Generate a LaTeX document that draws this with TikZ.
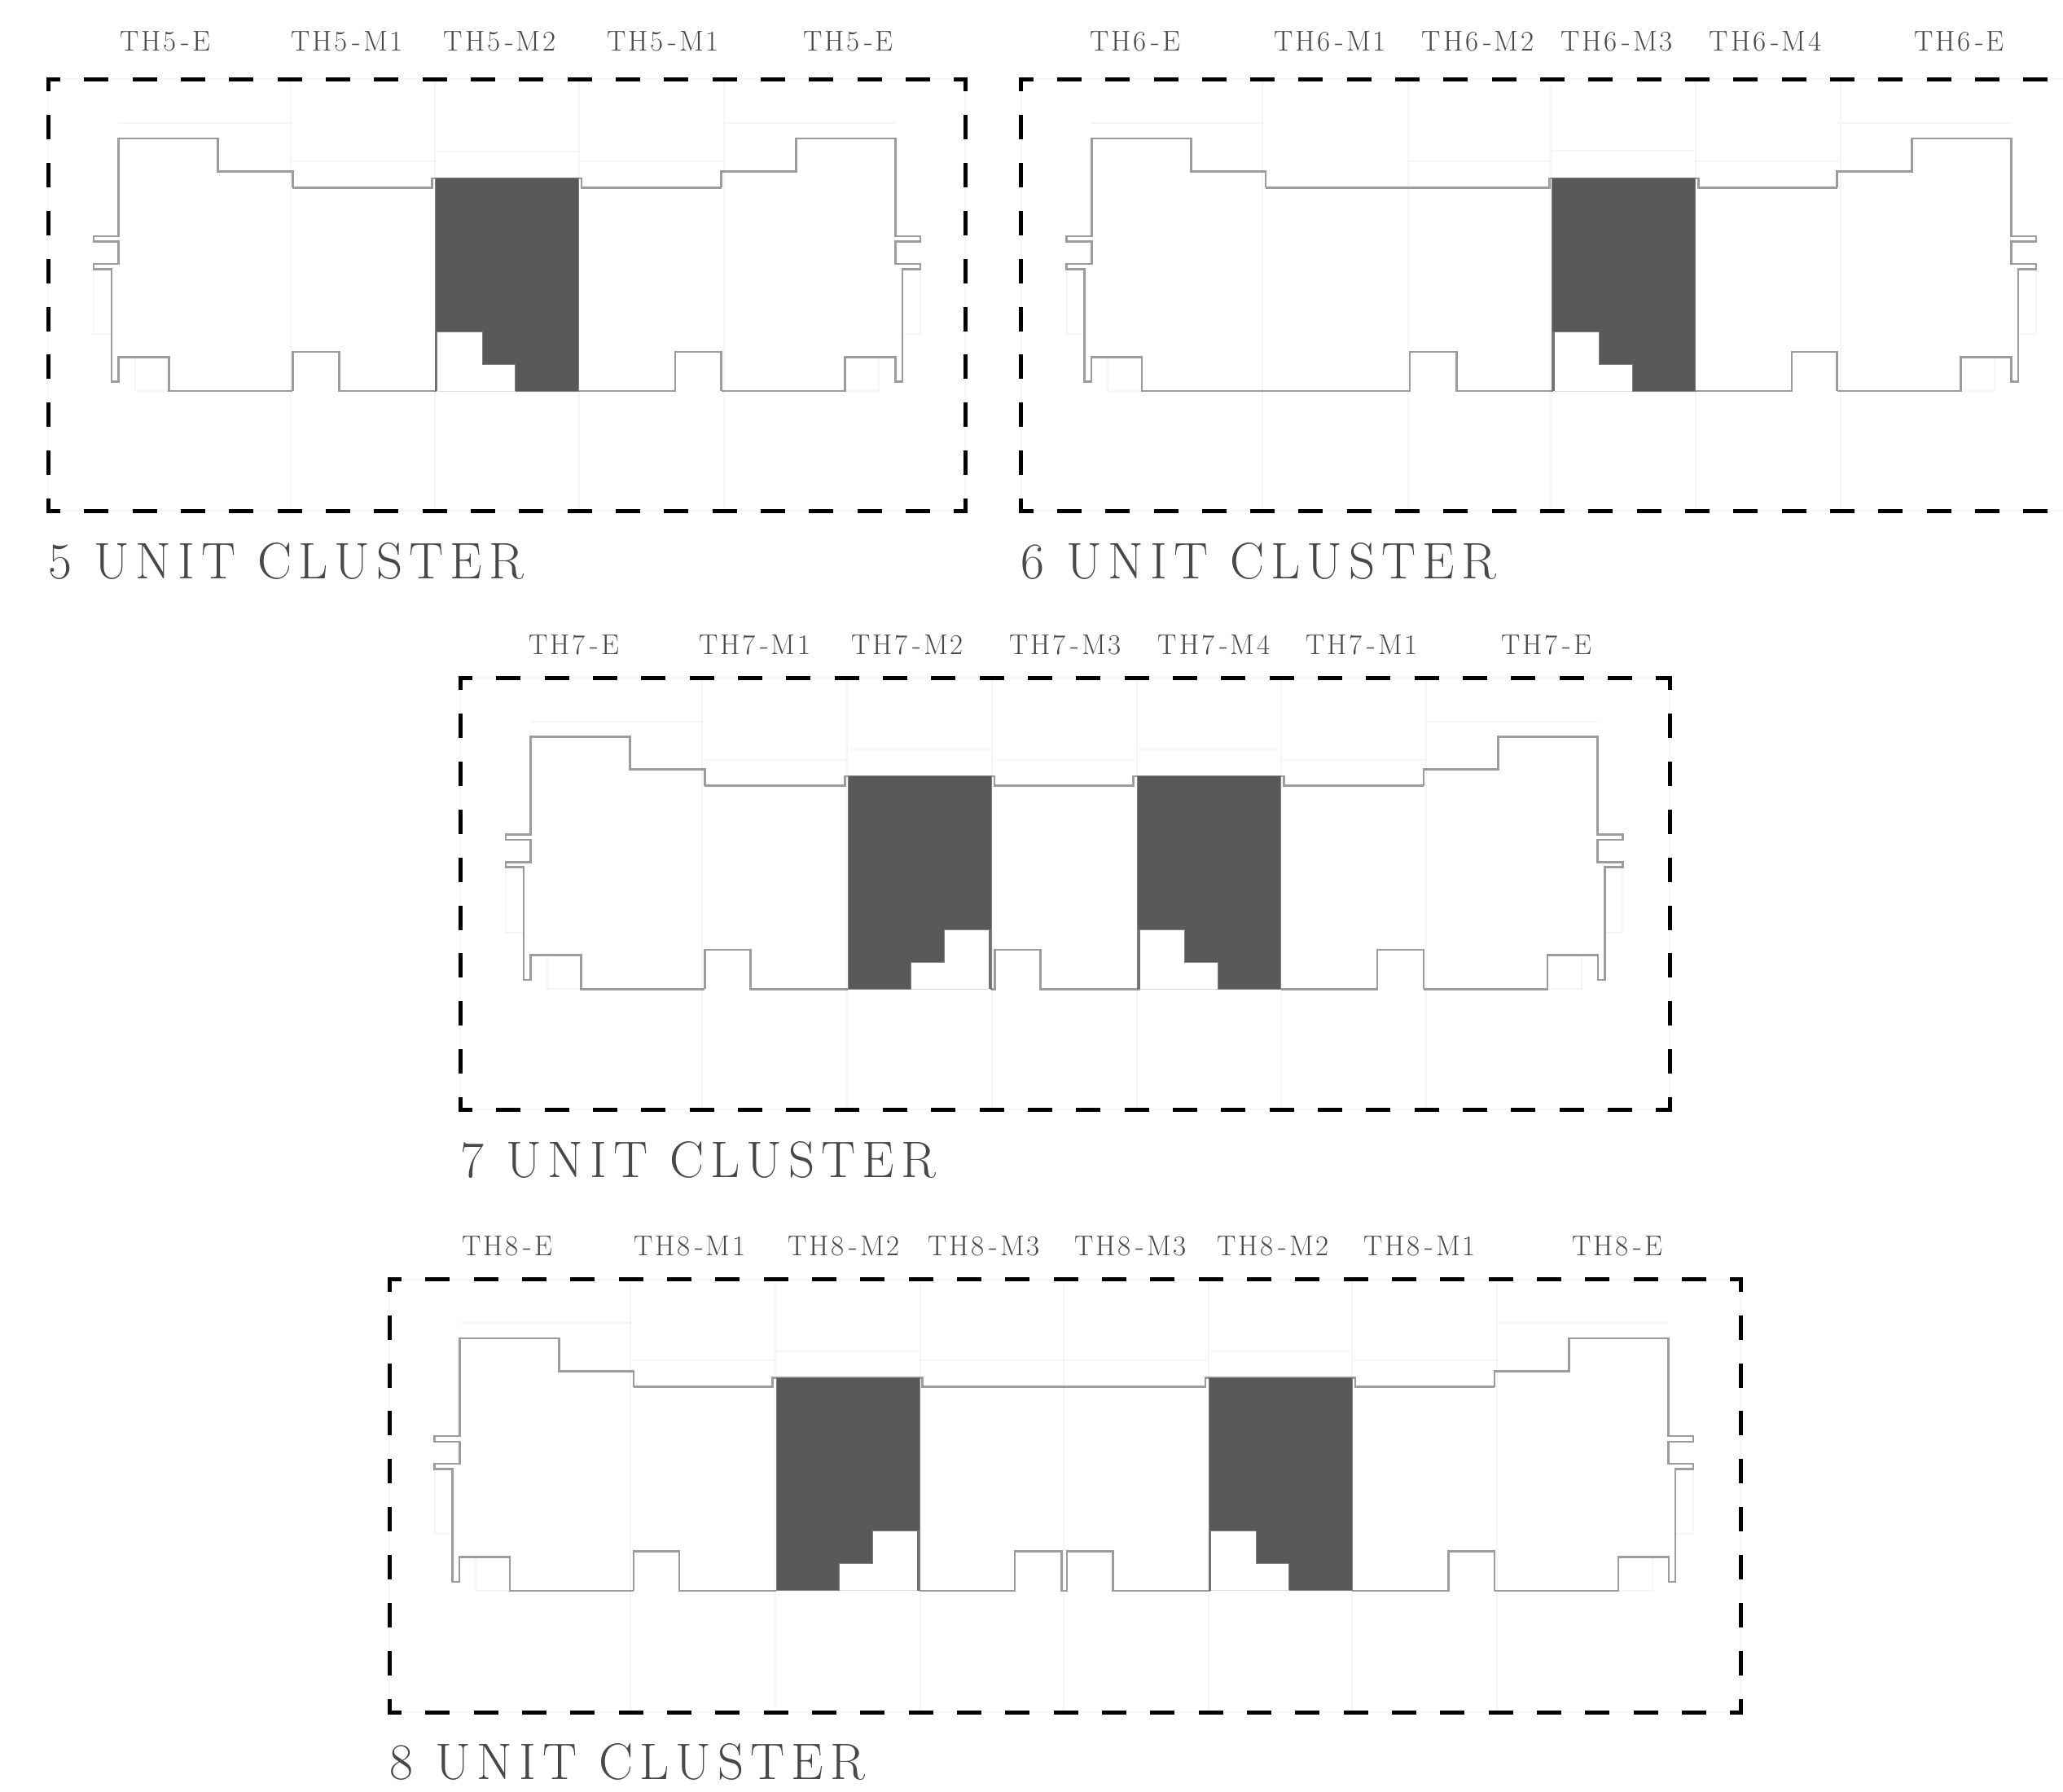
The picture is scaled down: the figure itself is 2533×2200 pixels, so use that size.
\documentclass[tikz,border=0pt]{standalone}
\usepackage{fontspec}
\setmainfont{Latin Modern Roman}
\newfontfamily\labelfont[LetterSpace=8]{Latin Modern Roman}
\newfontfamily\titlefont[LetterSpace=12.7]{Latin Modern Roman}
\definecolor{wallgray}{HTML}{9C9C9C}
\definecolor{faintgray}{HTML}{F6F6F6}
\definecolor{unitfill}{HTML}{595959}
\definecolor{textgray}{HTML}{484848}
\tikzstyle{wall} = [draw=wallgray, line width=2.6pt, line join=miter]
\tikzstyle{faint} = [draw=faintgray, line width=2pt]
\tikzstyle{hdash} = [black, line width=5pt, dash pattern=on 30pt off 29.33pt, dash phase=12.5pt, shorten <=-2.5pt, shorten >=-2.5pt]
\tikzstyle{vdash} = [black, line width=5pt, dash pattern=on 30pt off 28.9pt, dash phase=12.5pt, shorten <=-2.5pt, shorten >=-2.5pt]
\tikzstyle{unitlabel} = [anchor=base, inner sep=0pt, text=textgray, font=\labelfont\fontsize{35}{40}\selectfont]
\tikzstyle{clustertitle} = [anchor=base west, inner sep=0pt, text=textgray, font=\titlefont\fontsize{63}{70}\selectfont]
\newcommand{\dashgap}{\kern6pt-}
\tikzset{
  endwing/.pic={
    \draw [faint] (0,54) -- (213,54);
    \draw [faint] (-30.6,233) -- (-30.6,313) -- (-8.6,313);
    \draw [faint] (20,341) -- (20,382.5) -- (61,382.5);
    \draw [wall] (213.7,133) -- (213.7,113) -- (122,113) -- (122,72.5) -- (0,72.5) -- (0,192.7) -- (-30.6,192.7) -- (-30.6,199.4) -- (0,199.4) -- (0,226.7) -- (-30.6,226.7) -- (-30.6,233) -- (-8.6,233) -- (-8.6,371.4) -- (-0.3,371.4) -- (-0.3,341) -- (61.7,341) -- (61.7,382.6) -- (213.7,382.6);
  },
  darkunit/.pic={
    \fill [unitfill, draw=wallgray!60!unitfill, line width=1pt] (0,0) -- (176,0) -- (176,261.3) -- (98.5,261.3) -- (98.5,228.5) -- (58,228.5) -- (58,188.5) -- (1,188.5) -- (1,261.3) -- (0,261.3) -- cycle;
    \draw [unitfill!85!white, line width=3pt] (1.6,188.5) -- (1.6,261.3);
    \draw [wallgray!35!white, line width=1pt] (3.3,261.3) -- (98.5,261.3);
  }
}

\begin{document}
\begin{tikzpicture}[x=1pt, y=-1pt]
\useasboundingbox (0,0) rectangle (2533,2200);

\draw [faint] (59,97) rectangle (1185,627);
\draw [faint] (356.8,97) -- (356.8,627) (533.6,97) -- (533.6,627) (711.3,97) -- (711.3,627) (888.7,97) -- (888.7,627);
\draw [faint] (357,198) -- (533,198) (534,186) -- (711,186) (712,198) -- (888,198);
\pic at (145.6,97.3) {endwing};
\pic [xscale=-1] at (1099.2,97.3) {endwing};
\draw [wall] (359.3,230.3) -- (530.4,230.3) -- (530.4,218.8) -- (714,218.8) -- (714,230.3) -- (885.5,230.3);
\draw [wall] (359.3,479.9) -- (359.3,432) -- (416.5,432) -- (416.5,479.9) -- (536,479.9);
\draw [wall] (710,479.9) -- (829,479.9) -- (829,432) -- (885.5,432) -- (885.5,479.9);
\pic at (534,218.8) {darkunit};
\draw [hdash] (59,97) -- (1185,97);
\draw [hdash] (59,627) -- (1185,627);
\draw [vdash] (59,97) -- (59,627);
\draw [vdash] (1185,97) -- (1185,627);
\node (th5e) [unitlabel] at (203,62.7) {TH5\dashgap E};
\node (th5m1) [unitlabel] at (426,62.7) {TH5\dashgap M1};
\node (th5m2) [unitlabel] at (613.5,62.7) {TH5\dashgap M2};
\node (th5m1b) [unitlabel] at (814,62.7) {TH5\dashgap M1};
\node (th5eb) [unitlabel] at (1041.5,62.7) {TH5\dashgap E};
\node (title5) [clustertitle] at (59,710) {5 UNIT CLUSTER};

\draw [faint] (1253.5,627) -- (1253.5,97) -- (2533,97) (1253.5,627) -- (2533,627);
\draw [faint] (1550,97) -- (1550,627) (1729,97) -- (1729,627) (1904,97) -- (1904,627) (2082.3,97) -- (2082.3,627) (2260,97) -- (2260,627);
\draw [faint] (1729,198) -- (1904,198) (1904,185) -- (2082,185) (2083,198) -- (2260,198);
\pic at (1340.3,97.3) {endwing};
\pic [xscale=-1] at (2469.3,97.3) {endwing};
\draw [wall] (1554,230.3) -- (1902.3,230.3) -- (1902.3,218.8) -- (2085.7,218.8) -- (2085.7,230.3) -- (2255.6,230.3);
\draw [wall] (1554,479.9) -- (1731,479.9) -- (1731,432) -- (1788.3,432) -- (1788.3,479.9) -- (1907,479.9);
\draw [wall] (2082,479.9) -- (2200,479.9) -- (2200,432) -- (2255.6,432) -- (2255.6,479.9);
\pic at (1905.5,218.8) {darkunit};
\draw [hdash] (1253.5,97) -- (2533,97);
\draw [hdash] (1253.5,627) -- (2533,627);
\draw [vdash] (1253.5,97) -- (1253.5,627);
\node (th6e) [unitlabel] at (1393.7,62.7) {TH6\dashgap E};
\node (th6m1) [unitlabel] at (1633.3,62.7) {TH6\dashgap M1};
\node (th6m2) [unitlabel] at (1814.5,62.7) {TH6\dashgap M2};
\node (th6m3) [unitlabel] at (1985.3,62.7) {TH6\dashgap M3};
\node (th6m4) [unitlabel] at (2167.5,62.7) {TH6\dashgap M4};
\node (th6eb) [unitlabel] at (2405.5,62.7) {TH6\dashgap E};
\node (title6) [clustertitle] at (1253,710) {6 UNIT CLUSTER};

\draw [faint] (565,832) rectangle (2050,1362);
\draw [faint] (861.7,832) -- (861.7,1362) (1040,832) -- (1040,1362) (1218.3,832) -- (1218.3,1362) (1396,832) -- (1396,1362) (1572.7,832) -- (1572.7,1362) (1750.7,832) -- (1750.7,1362);
\draw [faint] (862,933) -- (1040,933) (1040,920) -- (1218,920) (1219,933) -- (1396,933) (1396,920) -- (1572,920) (1573,933) -- (1750,933);
\pic at (651.7,831.7) {endwing};
\pic [xscale=-1] at (1961.7,831.7) {endwing};
\draw [wall] (865.4,964.5) -- (1037.3,964.5) -- (1037.3,952.8) -- (1221,952.8) -- (1221,964.5) -- (1391.7,964.5) -- (1391.7,952.8) -- (1576.7,952.8) -- (1576.7,964.5) -- (1748,964.5);
\draw [wall] (865.4,1214.3) -- (865.4,1166) -- (921.7,1166) -- (921.7,1214.3) -- (1041,1214.3);
\draw [wall] (1216.7,1214.3) -- (1221.7,1214.3) -- (1221.7,1166) -- (1277.7,1166) -- (1277.7,1214.3) -- (1400,1214.3);
\draw [wall] (1572.7,1214.3) -- (1691,1214.3) -- (1691,1166) -- (1748,1166) -- (1748,1214.3);
\pic [xscale=-1] at (1217,952.8) {darkunit};
\pic at (1396.7,952.8) {darkunit};
\draw [hdash] (565,832) -- (2050,832);
\draw [hdash] (565,1362) -- (2050,1362);
\draw [vdash] (565,832) -- (565,1362);
\draw [vdash] (2050,832) -- (2050,1362);
\node (th7e) [unitlabel] at (705,803.3) {TH7\dashgap E};
\node (th7m1) [unitlabel] at (926.7,803.3) {TH7\dashgap M1};
\node (th7m2) [unitlabel] at (1114,803.3) {TH7\dashgap M2};
\node (th7m3) [unitlabel] at (1308,803.3) {TH7\dashgap M3};
\node (th7m4) [unitlabel] at (1490.5,803.3) {TH7\dashgap M4};
\node (th7m1b) [unitlabel] at (1672,803.3) {TH7\dashgap M1};
\node (th7eb) [unitlabel] at (1899,803.3) {TH7\dashgap E};
\node (title7) [clustertitle] at (565,1445) {7 UNIT CLUSTER};

\draw [faint] (478,1570.7) rectangle (2137,2102);
\draw [faint] (774,1571) -- (774,2102) (951.7,1571) -- (951.7,2102) (1130,1571) -- (1130,2102) (1306,1571) -- (1306,2102) (1484,1571) -- (1484,2102) (1660,1571) -- (1660,2102) (1838.3,1571) -- (1838.3,2102);
\draw [faint] (774,1670) -- (952,1670) (952,1659) -- (1130,1659) (1130,1670) -- (1484,1670) (1484,1659) -- (1660,1659) (1660,1670) -- (1838,1670);
\pic at (564.3,1570.4) {endwing};
\pic [xscale=-1] at (2048.5,1570.4) {endwing};
\draw [wall] (778,1702.7) -- (948.3,1702.7) -- (948.3,1691.4) -- (1132.3,1691.4) -- (1132.3,1702.7) -- (1480,1702.7) -- (1480,1691.4) -- (1664,1691.4) -- (1664,1702.7) -- (1834.8,1702.7);
\draw [wall] (778,1953) -- (778,1904.3) -- (834,1904.3) -- (834,1953) -- (953.3,1953);
\draw [wall] (1128.7,1953) -- (1246,1953) -- (1246,1904.3) -- (1303.3,1904.3) -- (1303.3,1953) -- (1310,1953) -- (1310,1904.3) -- (1366.7,1904.3) -- (1366.7,1953) -- (1486,1953);
\draw [wall] (1660,1953) -- (1778.3,1953) -- (1778.3,1904.3) -- (1834.8,1904.3) -- (1834.8,1953);
\pic [xscale=-1] at (1129.3,1691.4) {darkunit};
\pic at (1484,1691.4) {darkunit};
\draw [hdash] (478,1570.7) -- (2137,1570.7);
\draw [hdash] (478,2102) -- (2137,2102);
\draw [vdash] (478,1570.7) -- (478,2102);
\draw [vdash] (2137,1570.7) -- (2137,2102);
\node (th8e) [unitlabel] at (622.8,1541.7) {TH8\dashgap E};
\node (th8m1) [unitlabel] at (846.7,1541.7) {TH8\dashgap M1};
\node (th8m2) [unitlabel] at (1036,1541.7) {TH8\dashgap M2};
\node (th8m3) [unitlabel] at (1208.3,1541.7) {TH8\dashgap M3};
\node (th8m3b) [unitlabel] at (1388.3,1541.7) {TH8\dashgap M3};
\node (th8m2b) [unitlabel] at (1563.3,1541.7) {TH8\dashgap M2};
\node (th8m1b) [unitlabel] at (1743.3,1541.7) {TH8\dashgap M1};
\node (th8eb) [unitlabel] at (1986,1541.7) {TH8\dashgap E};
\node (title8) [clustertitle] at (478,2184) {8 UNIT CLUSTER};

\end{tikzpicture}
\end{document}
